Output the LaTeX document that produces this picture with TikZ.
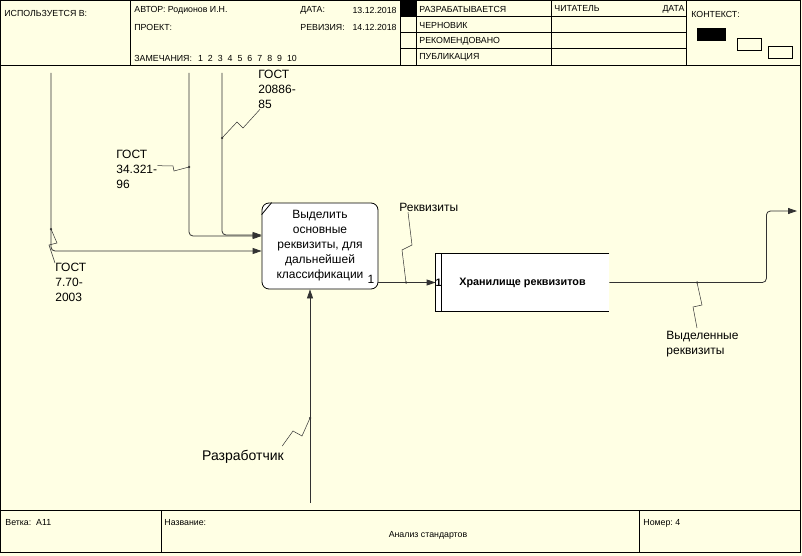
\documentclass[tikz,border=0pt]{standalone}
\usepackage{fontspec}
\setmainfont{Liberation Sans}
\usetikzlibrary{arrows.meta}
\definecolor{paper}{RGB}{255,255,228}
\definecolor{wire}{RGB}{50,50,50}
\newcommand{\hdrfont}{\fontsize{8.8}{10}\selectfont}
\newcommand{\lblfont}{\fontsize{12}{15}\selectfont}
\begin{document}
\begin{tikzpicture}[x=1pt, y=-1pt, line width=0.8pt,
    hdr/.style={font=\hdrfont, inner sep=0pt, anchor=west},
    lbl/.style={font=\lblfont, align=left, inner sep=0pt, anchor=north west},
    actbox/.style={draw, fill=white, rounded corners=7pt, minimum width=116pt, minimum height=86pt, align=center, inner sep=0pt, font=\lblfont},
    storebox/.style={fill=white, minimum width=173pt, minimum height=57pt, inner sep=0pt, font=\fontsize{10.8}{13}\selectfont\bfseries},
    flow/.style={draw=wire, rounded corners=4pt, -{Triangle[length=9pt,width=6pt]}},
    squig/.style={draw=wire, line width=0.5pt},
    jointdot/.style={circle, fill=wire, inner sep=0pt, minimum size=2.5pt}]
  \fill[paper] (0,0) rectangle (802,556);
  \useasboundingbox (0,0) rectangle (802,556);
  % frame
  \draw (0.5,0.5) rectangle (800.5,552.5);
  \draw (0.5,65.5) -- (800.5,65.5);
  \draw (0.5,510.5) -- (800.5,510.5);
  \foreach \x in {130.5,400.5,416.5,551.5,686.5} \draw (\x,0.5) -- (\x,65.5);
  \foreach \y in {16.5,32.5,48.5} \draw (400.5,\y) -- (686.5,\y);
  \foreach \x in {161.5,639.5} \draw (\x,510.5) -- (\x,552.5);
  \fill (400.5,0.5) rectangle (416.5,16.5);
  \fill (697,28) rectangle (726,41);
  \draw (737,38) rectangle (761,50);
  \draw (768,46) rectangle (792,58);
  % header
  \node[hdr] (usedin) at (4,13) {ИСПОЛЬЗУЕТСЯ В:};
  \node[hdr] (author) at (134,10) {АВТОР:\ Родионов И.Н.};
  \node[hdr] (project) at (134,27) {ПРОЕКТ:};
  \node[hdr] (notes) at (134,58) {ЗАМЕЧАНИЯ:\hspace{6pt}1\hspace{5pt}2\hspace{5pt}3\hspace{5pt}4\hspace{5pt}5\hspace{5pt}6\hspace{5pt}7\hspace{5pt}8\hspace{5pt}9\hspace{5pt}10};
  \node[hdr] (date) at (300,10) {ДАТА:};
  \node[hdr, anchor=east] (dateval) at (397,10) {13.12.2018};
  \node[hdr] (rev) at (300,27) {РЕВИЗИЯ:};
  \node[hdr, anchor=east] (revval) at (397,27) {14.12.2018};
  \node[hdr] (work) at (419,9) {РАЗРАБАТЫВАЕТСЯ};
  \node[hdr] (draft) at (419,25) {ЧЕРНОВИК};
  \node[hdr] (recom) at (419,41) {РЕКОМЕНДОВАНО};
  \node[hdr] (publ) at (419,57) {ПУБЛИКАЦИЯ};
  \node[hdr] (reader) at (554,9) {ЧИТАТЕЛЬ};
  \node[hdr, anchor=east] (readdate) at (685,9) {ДАТА};
  \node[hdr] (context) at (691,14) {КОНТЕКСТ:};
  % footer
  \node[hdr] (node) at (5,523) {Ветка:\ \ А11};
  \node[hdr] (title) at (164,523) {Название:};
  \node[hdr, anchor=center] (titleval) at (428,535) {Анализ стандартов};
  \node[hdr] (number) at (643,523) {Номер:\ 4};
  % blocks
  \node[actbox] (act) at (320,246) {Выделить\\основные\\реквизиты, для\\дальнейшей\\классификации};
  \node[font=\lblfont, inner sep=0pt] (actnum) at (371,279) {1};
  \draw ([yshift=-12pt]act.north west) -- ([xshift=10pt]act.north west);
  \node[storebox] (store) at (522.5,282.5) {Хранилище реквизитов};
  \draw (store.north east) -- (store.north west) -- (store.south west) -- (store.south east);
  \draw ([xshift=6pt]store.north west) -- ([xshift=6pt]store.south west);
  \node[font=\fontsize{10.8}{13}\selectfont\bfseries, inner sep=0pt] (storenum) at ([xshift=3pt]store.west) {1};
  % arrows
  \coordinate (ctlA) at (189,73);
  \coordinate (ctlB) at (222,73);
  \coordinate (inC) at (51,73);
  \coordinate (mechsrc) at (310,503);
  \coordinate (outdst) at (797,211);
  \draw[flow] (ctlA) |- ([yshift=10pt]act.west);
  \draw[flow] (ctlB) |- ([yshift=11pt]act.west);
  \draw[flow] (inC) |- ([yshift=-5pt]act.west);
  \draw[flow] (mechsrc) -- ([xshift=-10pt]act.south);
  \draw[flow] (store.west -| act.east) -- (store.west);
  \draw[flow] (store.east) -- ++(157,0) |- (outdst);
  % labels
  \node[lbl] (l20886) at (258,70) {ГОСТ\\20886-\\85};
  \node[lbl] (l34321) at (116,150) {ГОСТ\\34.321-\\96};
  \node[lbl] (l770) at (55,263) {ГОСТ\\7.70-\\2003};
  \node[lbl] (lreq) at (399,203) {Реквизиты};
  \node[lbl] (lsel) at (666,331) {Выделенные\\реквизиты};
  \node[font=\fontsize{14}{16}\selectfont, inner sep=0pt] (ldev) at (243,457) {Разработчик};
  \node[jointdot] (j20886) at (222,138) {};
  \node[jointdot] (j34321) at (189,167) {};
  \node[jointdot] (j770) at (51,229) {};
  \node[jointdot] (jreq) at (406,282.5) {};
  \node[jointdot] (jsel) at (697,282.5) {};
  \node[jointdot] (jdev) at (310,418) {};
  \draw[squig] (j20886.center) -- (237,122) -- (243,128) -- ([xshift=2pt]l20886.south west);
  \draw[squig] (j34321.center) -- (174,171) -- (173,166) -- ([yshift=4pt]l34321.east);
  \draw[squig] (j770.center) -- (57,243) -- (49,245) -- (l770.north west);
  \draw[squig] (jreq.center) -- (402,250) -- (412,245) -- ([xshift=9pt]lreq.south west);
  \draw[squig] (jsel.center) -- (702,305) -- (693,307) -- ([xshift=31pt,yshift=3pt]lsel.north west);
  \draw[squig] (jdev.center) -- (302,436) -- (293,431) -- ([xshift=-2pt,yshift=4pt]ldev.north east);
\end{tikzpicture}
\end{document}
